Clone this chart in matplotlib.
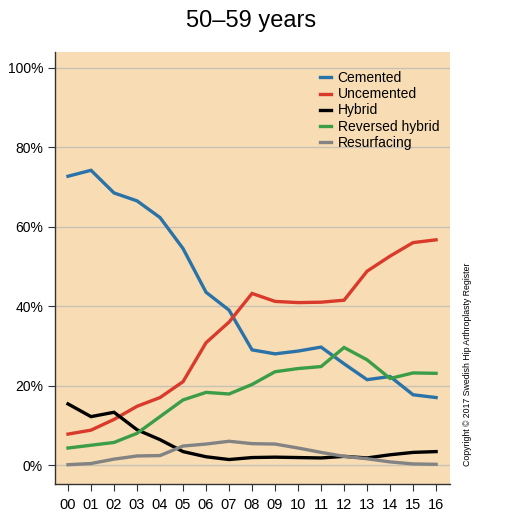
import matplotlib
matplotlib.use("Agg")
import matplotlib.pyplot as plt

# ---------------------------------------------------------------------------
# Data (share of primary hip arthroplasties, %, age 50-59)
# ---------------------------------------------------------------------------
YEARS = ["00", "01", "02", "03", "04", "05", "06", "07", "08",
         "09", "10", "11", "12", "13", "14", "15", "16"]

CEMENTED = [72.7, 74.2, 68.5, 66.5, 62.3, 54.5, 43.5, 39.0, 29.0,
            28.0, 28.7, 29.7, 25.5, 21.5, 22.3, 17.7, 17.0]
UNCEMENTED = [7.8, 8.8, 11.5, 14.8, 17.0, 21.0, 30.8, 36.0, 43.2,
              41.2, 40.9, 41.0, 41.5, 48.8, 52.6, 56.0, 56.7]
HYBRID = [15.4, 12.2, 13.3, 8.9, 6.4, 3.4, 2.1, 1.4, 1.9,
          2.0, 1.9, 1.8, 2.2, 1.8, 2.6, 3.2, 3.4]
REVERSED_HYBRID = [4.3, 5.0, 5.7, 8.0, 12.2, 16.4, 18.3, 17.9, 20.3,
                   23.5, 24.3, 24.8, 29.6, 26.5, 21.8, 23.2, 23.1]
RESURFACING = [0.1, 0.4, 1.5, 2.3, 2.4, 4.8, 5.3, 6.0, 5.4,
               5.3, 4.3, 3.2, 2.2, 1.6, 0.8, 0.3, 0.2]

SERIES = [
    ("Cemented",        CEMENTED,        "#2a72a8"),
    ("Uncemented",      UNCEMENTED,      "#d93a2b"),
    ("Hybrid",          HYBRID,          "#000000"),
    ("Reversed hybrid", REVERSED_HYBRID, "#3c9d47"),
    ("Resurfacing",     RESURFACING,     "#838383"),
]

plt.rcParams["font.family"] = ["Liberation Sans", "DejaVu Sans"]

fig = plt.figure(figsize=(5.13, 5.24), dpi=100)
ax = fig.add_axes([0.107, 0.076, 0.770, 0.825])
ax.set_facecolor("#f8ddb4")

x = list(range(len(YEARS)))
ax.grid(axis="y", color="#c9c1b4", linewidth=1.0, zorder=0)
ax.set_axisbelow(True)

for name, vals, col in SERIES:
    ax.plot(x, vals, color=col, linewidth=2.4, label=name,
            solid_joinstyle="miter", zorder=3)

ax.set_xlim(-0.57, 16.6)
ax.set_ylim(-4.8, 104)
ax.set_xticks(x)
ax.set_xticklabels(YEARS, fontsize=10.5)
ax.set_yticks([0, 20, 40, 60, 80, 100])
ax.set_yticklabels([f"{v}%" for v in range(0, 101, 20)], fontsize=10)
ax.tick_params(axis="both", direction="out", length=5, width=0.8,
               color="#333333")
ax.tick_params(axis="x", pad=5)

for sp in ("top", "right"):
    ax.spines[sp].set_visible(False)
for sp in ("left", "bottom"):
    ax.spines[sp].set_color("#333333")
    ax.spines[sp].set_linewidth(1.0)

ax.legend(loc="upper left", bbox_to_anchor=(0.672, 0.955), frameon=False,
          fontsize=10, handlelength=0.8, handletextpad=0.45,
          labelspacing=0.15, borderaxespad=0.0, borderpad=0.0)

fig.text(0.49, 0.960, "50\u201359 years", ha="center", va="center",
         fontsize=17)
fig.text(0.912, 0.305, "Copyright \u00a9 2017 Swedish Hip Arthroplasty Register",
         rotation=90, ha="center", va="center", fontsize=6.3)

fig.savefig("out.png", dpi=100, facecolor="white")
